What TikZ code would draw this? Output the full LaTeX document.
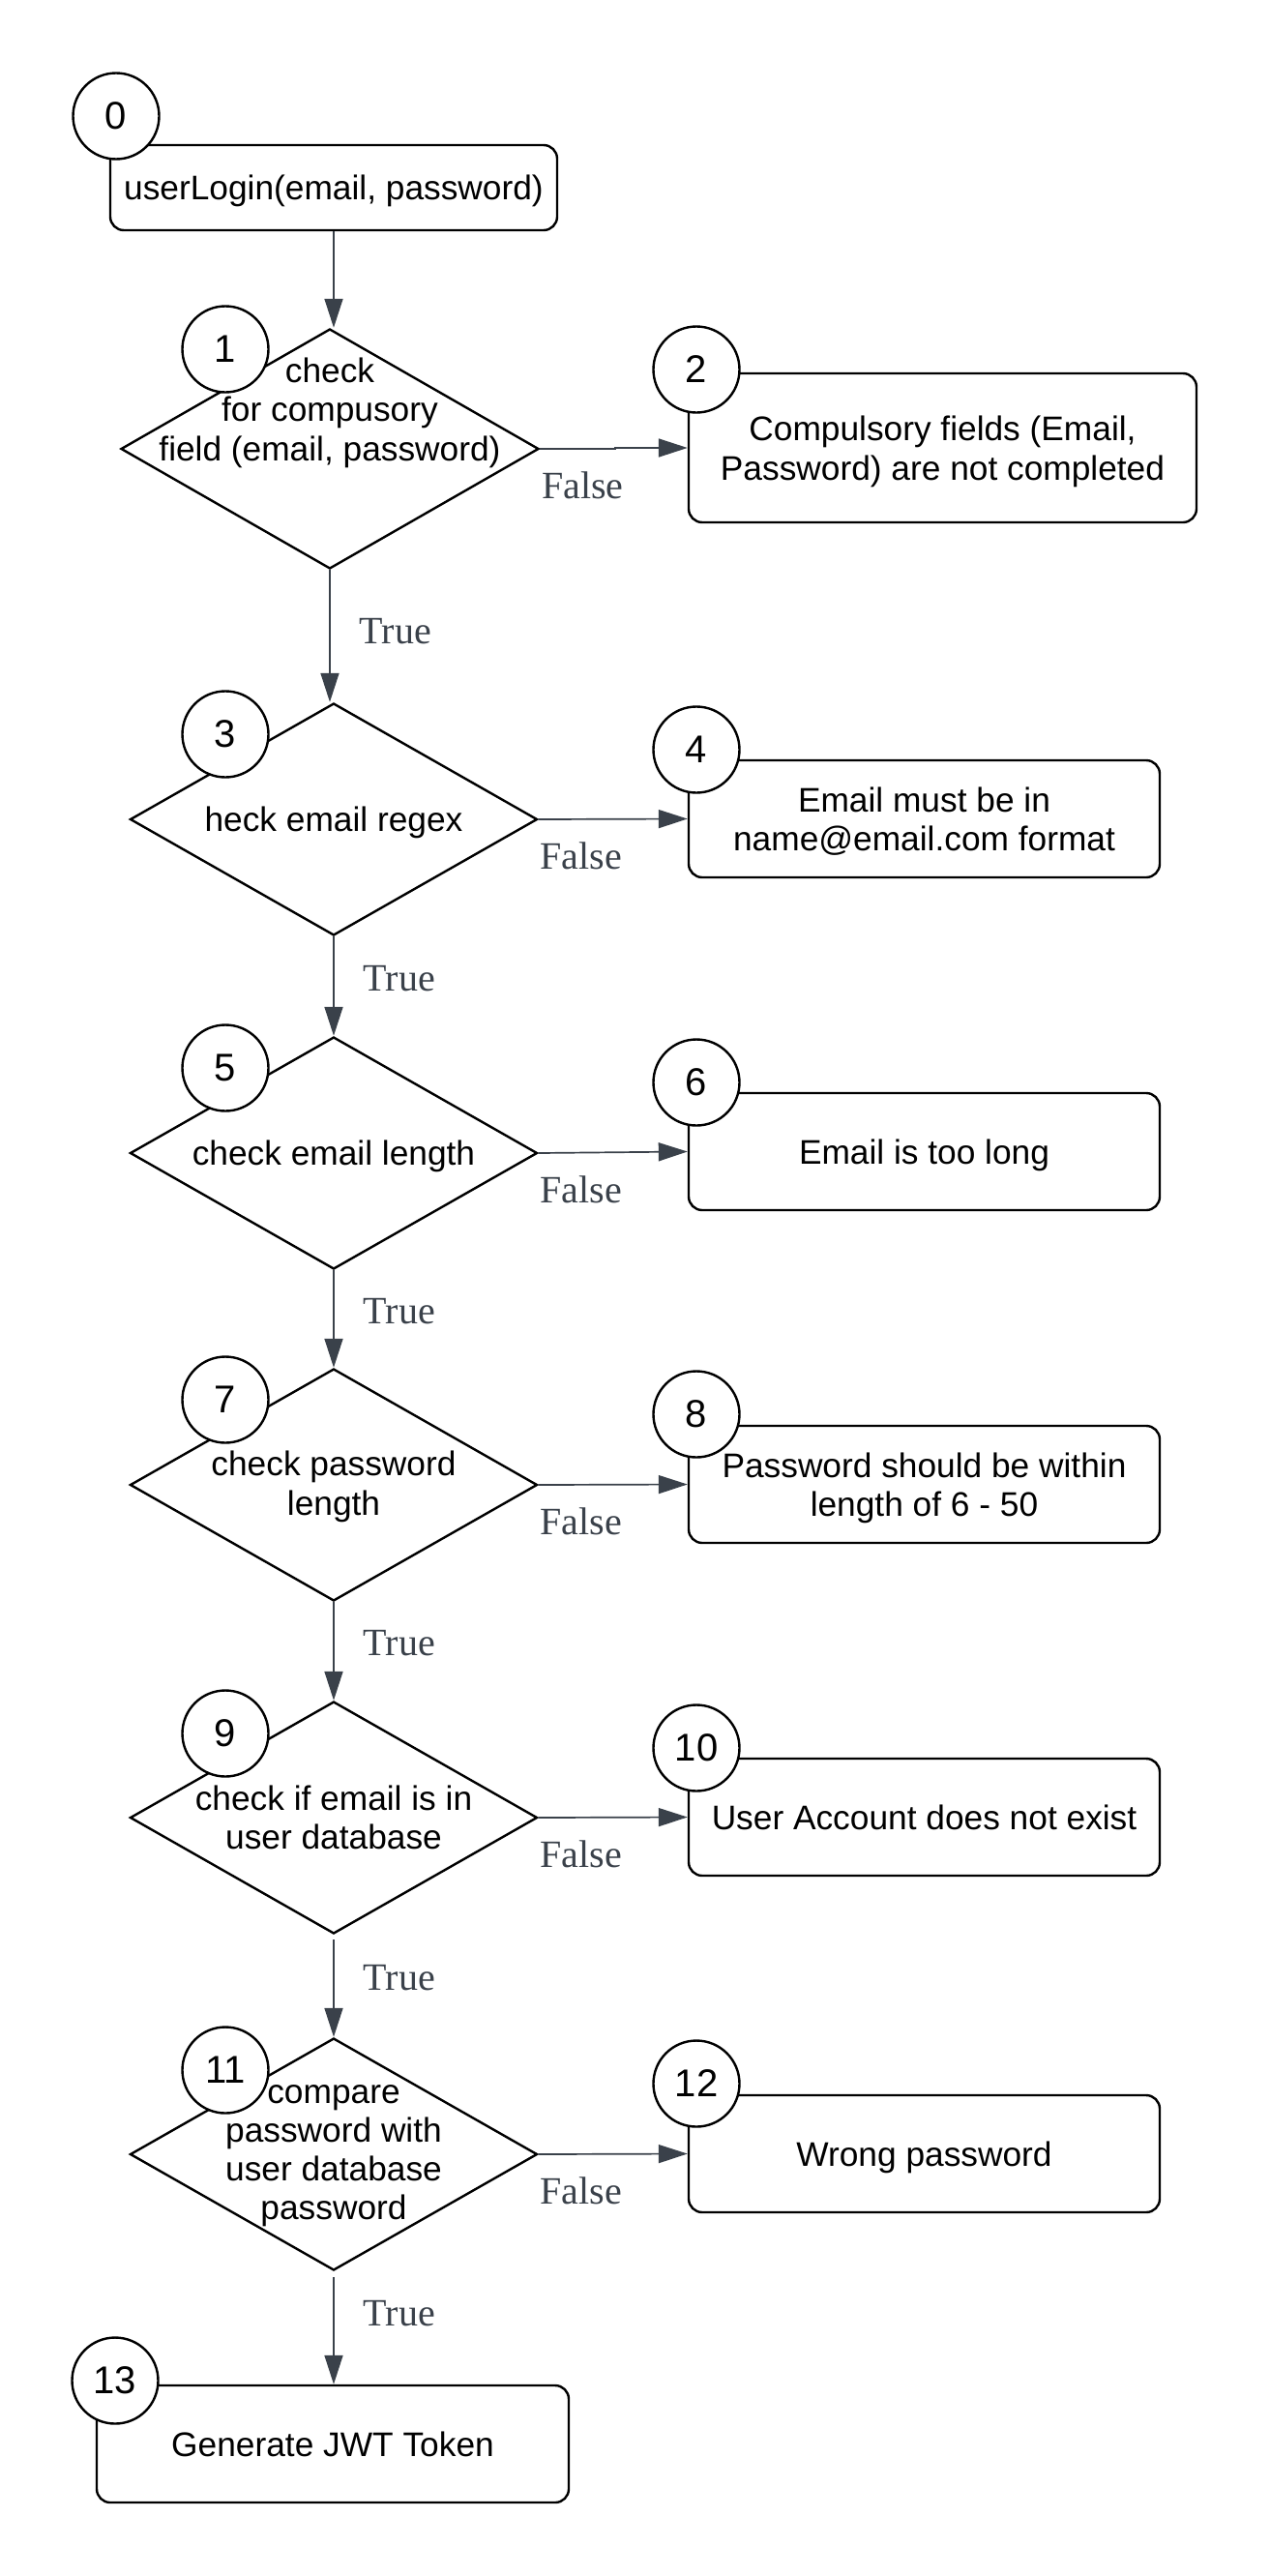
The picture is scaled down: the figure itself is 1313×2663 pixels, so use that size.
\documentclass[tikz,border=0pt]{standalone}
\usepackage{fontspec}
\setmainfont{Liberation Sans}
\newfontfamily\lblfont{Liberation Serif}
\usetikzlibrary{shapes.geometric,arrows.meta}
\definecolor{linegray}{HTML}{3A414A}
\newcommand\lnstrut{\rule[-6.85pt]{0pt}{40pt}}

\begin{document}
\begin{tikzpicture}[
  x=1pt, y=-1pt,
  every node/.style={align=center},
  font=\fontsize{35.3}{40}\selectfont,
  txt/.style={execute at begin node=\lnstrut, execute at end node=\lnstrut},
  block/.style={txt, draw, line width=2.4pt, rounded corners=14pt,
    minimum width=487pt, minimum height=121pt, inner sep=0pt},
  decision/.style={draw, diamond, line width=2.4pt,
    minimum width=421pt, minimum height=240pt, inner sep=0pt},
  tag/.style={draw, circle, fill=white, line width=2.4pt,
    minimum size=89pt, inner sep=0pt, font=\fontsize{40}{40}\selectfont},
  flow/.style={draw=linegray, line width=1.7pt,
    -{Triangle[length=30pt,width=19pt]}},
  yes/.style={midway, anchor=west, inner sep=0pt, xshift=30pt, yshift=8pt,
    text=linegray, font=\lblfont\fontsize{40}{40}\selectfont},
  no/.style={pos=0, anchor=west, inner sep=0pt, xshift=1pt, yshift=-38pt,
    text=linegray, font=\lblfont\fontsize{40}{40}\selectfont}]
\useasboundingbox (0,0) rectangle (1313,2663);

\node [block, minimum width=462pt, minimum height=88pt] (b0) at (345,194)
  {userLogin(email, password)};

\node [decision, minimum width=432pt, minimum height=248pt] (d1) at (341,464) {};
\node (t1) at (341,423) {\lnstrut check\\for compusory\\field (email, password)\lnstrut};
\node [block, minimum width=525pt, minimum height=154pt] (b2) at (974.5,463)
  {\lnstrut Compulsory fields (Email,\\Password) are not completed\lnstrut};

\node [decision] (d3) at (345,847) {};
\node [txt] (t3) at (d3) {heck email regex};
\node [block] (b4) at (955.5,846.5)
  {\lnstrut Email must be in\\name@email.com format\lnstrut};

\node [decision] (d5) at (345,1192) {};
\node [txt] (t5) at (d5) {check email length};
\node [block] (b6) at (955.5,1190.5) {Email is too long};

\node [decision] (d7) at (345,1535) {};
\node (t7) at (345,1533) {\lnstrut check password\\length\lnstrut};
\node [block] (b8) at (955.5,1534.5)
  {\lnstrut Password should be within\\length of 6 - 50\lnstrut};

\node [decision] (d9) at (345,1879) {};
\node (t9) at (345,1878) {\lnstrut check if email is in\\user database\lnstrut};
\node [block] (b10) at (955.5,1878.5) {User Account does not exist};

\node [decision] (d11) at (345,2227) {};
\node (t11) at (345,2222)
  {\lnstrut compare\\password with\\user database\\password\lnstrut};
\node [block] (b12) at (955.5,2226.5) {Wrong password};

\node [block, minimum width=488pt] (b13) at (344,2526.5) {Generate JWT Token};

\draw [flow] (b0.south) -- (b0.south |- d1.north);
\draw [flow] (d1.east) -- node [no] {False} ++(78,0) |- (b2.west);
\draw [flow] (d1.south) -- node [yes, yshift=-3pt] {True} (d1.south |- d3.north);
\draw [flow] (d3.east) -- node [no] {False} (b4.west);
\draw [flow] (d3.south) -- node [yes] {True} (d3.south |- d5.north);
\draw [flow] (d5.east) -- node [no] {False} (b6.west);
\draw [flow] (d5.south) -- node [yes] {True} (d5.south |- d7.north);
\draw [flow] (d7.east) -- node [no] {False} (b8.west);
\draw [flow] (d7.south) -- node [yes] {True} (d7.south |- d9.north);
\draw [flow] (d9.east) -- node [no] {False} (b10.west);
\draw [flow, shorten <=5pt] (d9.south) -- node [yes] {True} (d9.south |- d11.north);
\draw [flow] (d11.east) -- node [no] {False} (b12.west);
\draw [flow, shorten <=6pt] (d11.south) -- node [yes, yshift=7pt] {True} (d11.south |- b13.north);

\node [tag] (n0) at (120,120) {0};
\node [tag] (n1) at (233,361) {1};
\node [tag] (n2) at (720,382) {2};
\node [tag] (n3) at (233,759) {3};
\node [tag] (n4) at (720,775) {4};
\node [tag] (n5) at (233,1104) {5};
\node [tag] (n6) at (720,1119) {6};
\node [tag] (n7) at (233,1447) {7};
\node [tag] (n8) at (720,1462) {8};
\node [tag] (n9) at (233,1792) {9};
\node [tag] (n10) at (720,1807) {10};
\node [tag] (n11) at (233,2140) {11};
\node [tag] (n12) at (720,2154) {12};
\node [tag] (n13) at (119,2461) {13};
\end{tikzpicture}
\end{document}
